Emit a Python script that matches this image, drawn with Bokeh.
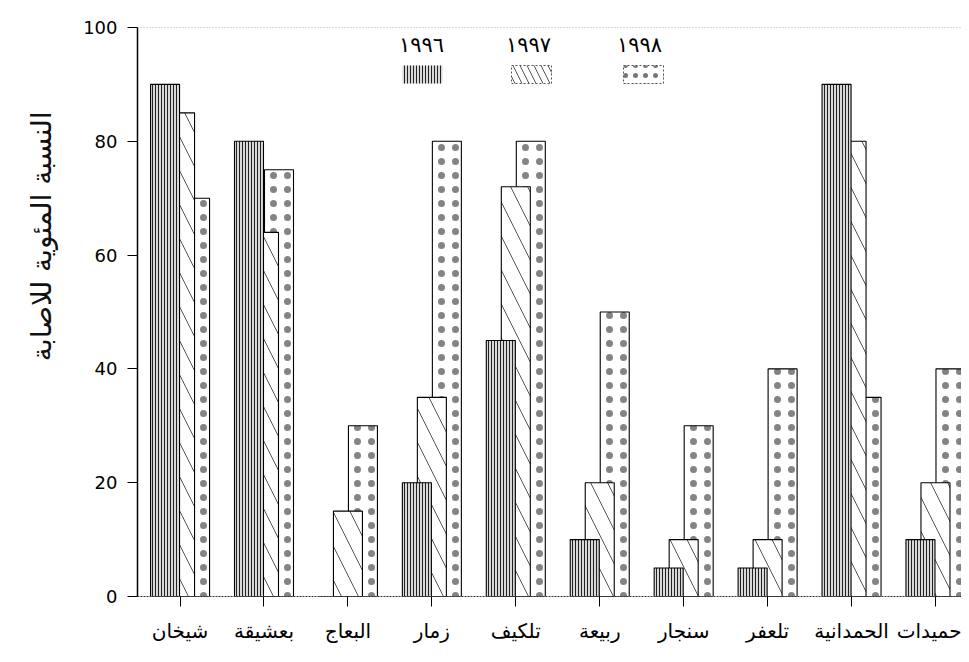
from bokeh.plotting import figure
from bokeh.models import Range1d, Span, FixedTicker
from bokeh.core.properties import value
from bokeh.embed import file_html
from bokeh.resources import INLINE

# ---- data ----
categories = ["شيخان", "بعشيقة", "البعاج", "زمار", "تلكيف", "ربيعة", "سنجار", "تلعفر", "الحمدانية", "حميدات"]
years = ["١٩٩٦", "١٩٩٧", "١٩٩٨"]
y1996 = [90, 80, 0, 20, 45, 10, 5, 5, 90, 10]
y1997 = [85, 64, 15, 35, 72, 20, 10, 10, 80, 20]
y1998 = [70, 75, 30, 80, 80, 50, 30, 40, 35, 40]
y_ticks = [0, 20, 40, 60, 80, 100]
y_title = "النسبة المئوية للاصابة"

# ---- layout ----
FL, FT = 137, 27           # frame left / top in page pixels
FW, FH = 824, 569
X0, X1 = -0.507, 9.31
ppx = FW / (X1 - X0)
ppy = FH / 100.0
OFF = 15 / ppx
BW = 29 / ppx

p = figure(width=961, height=654, frame_width=FW, frame_height=FH,
           x_range=Range1d(X0, X1), y_range=Range1d(0, 100),
           output_backend="svg", toolbar_location=None,
           min_border_left=FL, min_border_right=0, min_border_top=FT, min_border_bottom=58)
p.outline_line_color = None
p.xgrid.visible = False
p.ygrid.visible = False
p.background_fill_color = "white"
p.border_fill_color = "white"

idx = list(range(len(categories)))
series = [(y1998, OFF, "white", ".", 14, 1.0, "#777777", 0.9),
          (y1997, 0.0, "white", "\\", 34, 1.0, "#555555", 1.0),
          (y1996, -OFF, "#d8d8d8", "|", 3.0, 1.0, "#222222", 1.0)]
for vals, off, fc, hp, hs, hw, hc, ha in series:
    xs = [i + off for i in idx]
    p.vbar(x=xs, top=vals, bottom=0, width=BW, fill_color=fc, line_color="black",
           line_width=1.1, hatch_pattern=hp, hatch_scale=hs, hatch_weight=hw,
           hatch_color=hc, hatch_alpha=ha)

# top dotted border
p.add_layout(Span(location=100, dimension="width", line_color="#666666",
                  line_dash="1 2", line_width=1))

# axes
p.xaxis.ticker = FixedTicker(ticks=idx)
p.xaxis.major_label_overrides = {i: c for i, c in enumerate(categories)}
p.xaxis.major_label_text_font = "DejaVu Sans"
p.xaxis.major_label_text_font_size = "20px"
p.xaxis.major_label_text_color = "black"
p.xaxis.major_label_standoff = 12
p.xaxis.major_tick_out = 10
p.xaxis.major_tick_in = 0
p.xaxis.minor_tick_line_color = None
p.xaxis.axis_line_color = "#333333"
p.xaxis.axis_line_dash = "2 1"
p.xaxis.major_tick_line_color = "black"

p.yaxis.ticker = FixedTicker(ticks=y_ticks)
p.yaxis.major_label_text_font = "DejaVu Sans"
p.yaxis.major_label_text_font_size = "18px"
p.yaxis.major_label_text_color = "black"
p.yaxis.major_label_standoff = 10
p.yaxis.major_tick_out = 10
p.yaxis.major_tick_in = 0
p.yaxis.minor_tick_line_color = None
p.yaxis.axis_line_color = "black"
p.yaxis.axis_line_width = 1.5
# title shifted upward along the axis with leading no-break spaces
p.yaxis.axis_label = "\u00a0" * 17 + y_title
p.yaxis.axis_label_text_font = "DejaVu Sans"
p.yaxis.axis_label_text_font_size = "28px"
p.yaxis.axis_label_text_font_style = "normal"
p.yaxis.axis_label_text_color = "#111111"
p.yaxis.axis_label_standoff = 22


def px2x(px):
    return X0 + (px - FL) / ppx


def py2y(py):
    return (FT + FH - py) / ppy


# legend (labels above pattern boxes)
leg_text_px = [421, 528, 639]
leg_box_px = [422, 531, 643]
p.text(x=[px2x(v) for v in leg_text_px], y=[py2y(44)] * 3, text=years,
       text_align="center", text_baseline="middle", text_font=value("DejaVu Sans"),
       text_font_size="21px", text_color="black")
box_styles = [("|", 3.0, 1.0, "#222222", "#d8d8d8", None),
              ("\\", 14, 1.0, "#555555", "white", "#555555"),
              (".", 10, 1.0, "#777777", "white", "#555555")]
for bx, (hp, hs, hw, hc, fc, lc) in zip(leg_box_px, box_styles):
    p.rect(x=[px2x(bx)], y=[py2y(74)], width=40 / ppx, height=18 / ppy,
           fill_color=fc, line_color=lc, line_dash="2 2", line_width=1,
           hatch_pattern=hp, hatch_scale=hs, hatch_weight=hw, hatch_color=hc)

open("out.html", "w").write(file_html(p, INLINE))
